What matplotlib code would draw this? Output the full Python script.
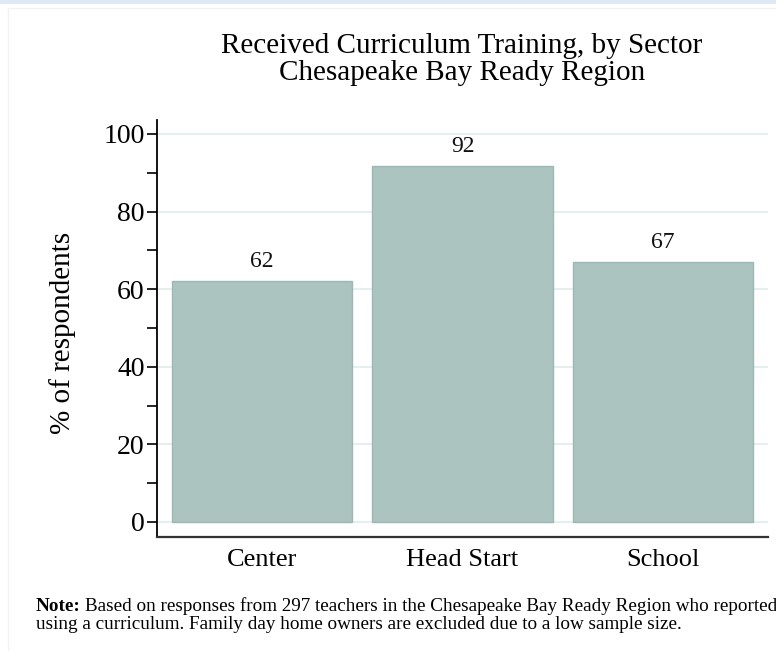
import matplotlib.pyplot as plt
from matplotlib.patches import Rectangle

# Data
sectors = ["Center", "Head Start", "School"]
pct_trained = [62.2, 91.8, 66.9]
bar_labels = ["62", "92", "67"]
y_major = [0, 20, 40, 60, 80, 100]
y_minor = [10, 30, 50, 70, 90]

plt.rcParams["font.family"] = ["Liberation Serif", "DejaVu Serif"]

W, H = 776, 651
fig = plt.figure(figsize=(W / 100, H / 100), dpi=100)
fig.patch.set_facecolor("white")

# faint page frame + light band at the top (screenshot look)
fig.patches.append(Rectangle((0, 1 - 4 / H), 1, 4 / H, transform=fig.transFigure,
                             facecolor="#dfe9f3", edgecolor="none", zorder=0))
fig.patches.append(Rectangle((8 / W, -0.1), 1.2, 1 - 8 / H + 0.1, transform=fig.transFigure,
                             facecolor="none", edgecolor="#f2f2f2", linewidth=1, zorder=0))

ax = fig.add_axes([157 / W, (H - 537) / H, (768 - 157) / W, (537 - 120) / H])
ax.set_facecolor("white")

x = range(len(sectors))
bars = ax.bar(x, pct_trained, width=0.9, color="#acc4c0", edgecolor="#9db8b4",
              linewidth=1, zorder=2)
for b, lab in zip(bars, bar_labels):
    ax.text(b.get_x() + b.get_width() / 2, b.get_height() + 2.3, lab,
            ha="center", va="bottom", fontsize=17, color="#111111")

ax.set_xlim(-0.525, 2.525)
ax.set_ylim(-3.87, 103.6)
ax.set_xticks(list(x))
ax.set_xticklabels(sectors, fontsize=19)
ax.set_yticks(y_major)
ax.set_yticks(y_minor, minor=True)
ax.set_yticklabels([str(v) for v in y_major], fontsize=20)
ax.tick_params(axis="x", length=0, pad=9)
ax.tick_params(axis="y", which="major", length=7, width=1.2, direction="out", pad=2)
ax.tick_params(axis="y", which="minor", length=7, width=1.2, direction="out")
ax.yaxis.grid(True, which="major", color="#e6eff0", linewidth=1.5, zorder=0)
ax.set_axisbelow(True)

for s in ["top", "right"]:
    ax.spines[s].set_visible(False)
ax.spines["left"].set_linewidth(1.3)
ax.spines["bottom"].set_linewidth(1.6)
ax.spines["bottom"].set_color("#333333")

ax.set_ylabel("% of respondents", fontsize=21)
ax.yaxis.set_label_coords((76 - 157) / 611, 0.49)

fig.text(462 / W, 1 - 46 / H, "Received Curriculum Training, by Sector",
         ha="center", va="center", fontsize=21)
fig.text(462 / W, 1 - 73 / H, "Chesapeake Bay Ready Region",
         ha="center", va="center", fontsize=21)

# note (first line runs off the right edge, as in the original)
note_fs = 13.8
t = fig.text(36 / W, 1 - 611 / H, "Note:", ha="left", va="baseline",
             fontsize=note_fs, fontweight="bold")
fig.canvas.draw()
bb = t.get_window_extent()
fig.text(bb.x1 / W + 4 / W, 1 - 611 / H,
         "Based on responses from 297 teachers in the Chesapeake Bay Ready Region who reported",
         ha="left", va="baseline", fontsize=note_fs)
fig.text(36 / W, 1 - 629 / H,
         "using a curriculum. Family day home owners are excluded due to a low sample size.",
         ha="left", va="baseline", fontsize=note_fs)

fig.savefig("out.png", dpi=100)
